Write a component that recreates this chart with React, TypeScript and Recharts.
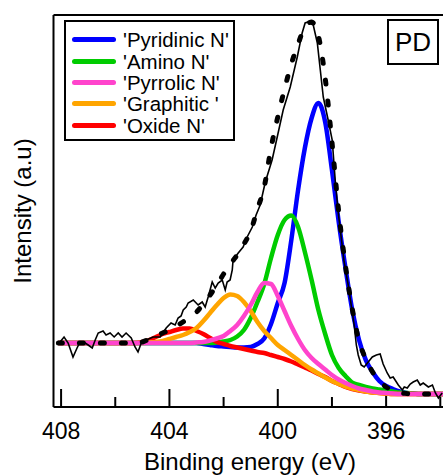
import React from 'react';
import { LineChart, Line, XAxis, YAxis, ReferenceLine, Legend } from 'recharts';

// Binding energies (eV) for the fitted component curves
const energies = [
  408.1, 408, 407.75, 407.5, 407.25, 407, 406.75, 406.5, 406.25, 406,
  405.75, 405.5, 405.25, 405, 404.75, 404.5, 404.25, 404, 403.75, 403.5,
  403.25, 403, 402.75, 402.5, 402.25, 402, 401.75, 401.5, 401.25, 401,
  400.75, 400.5, 400.25, 400, 399.75, 399.5, 399.25, 399, 398.75, 398.5,
  398.25, 398, 397.75, 397.5, 397.25, 397, 396.75, 396.5, 396.25, 396,
  395.75, 395.5, 395.25, 395, 394.75, 394.5, 394.25, 394, 393.9,
];

const pyridinicN = [
  64, 64, 64, 64, 64, 64, 64, 64, 64, 64,
  64, 64, 64, 64, 64, 64, 64, 64, 64, 64,
  64, 64, 63, 62, 61, 60.5, 60, 59.5, 59.5, 60,
  63, 68.5, 83, 104, 124, 167, 217, 259, 289, 304,
  285, 237, 185, 139, 97, 67, 47, 35, 26, 21,
  18, 15.5, 14, 13.5, 13, 13, 13, 13, 13,
];

const aminoN = [
  64, 64, 64, 64, 64, 64, 64, 64, 64, 64,
  64, 64, 64, 64, 64, 64, 64, 64, 64, 64,
  64, 64, 64, 64, 64.5, 65.5, 67, 70.5, 77, 89,
  105, 123, 149, 172, 187, 191.5, 180, 155, 127, 97,
  73, 52, 39, 31, 24.5, 22, 20, 18.5, 17.5, 16.5,
  15.5, 14.5, 14, 13.5, 13, 13, 13, 13, 13,
];

const pyrrolicN = [
  64, 64, 64, 64, 64, 64, 64, 64, 64, 64,
  64, 64, 64, 64, 64, 64, 64, 64, 64, 64,
  64, 64.5, 65, 66.5, 68.5, 71, 76, 82, 91, 102,
  115, 124, 123, 111, 96, 81, 68, 57, 49, 43,
  37.5, 32, 27.5, 24, 21, 18.5, 17, 15.5, 14.5, 14,
  13.5, 13, 13, 13, 13, 13, 13, 13, 13,
];

const graphiticN = [
  64, 64, 64, 64, 64, 64, 64, 64, 64, 64,
  64, 64, 64, 64, 64.5, 65, 66, 68, 70, 72,
  75, 79, 86, 94, 102, 109, 112.5, 111, 105, 96,
  85, 76, 69, 62, 57, 52, 47, 42, 37.5, 33.5,
  29.5, 26, 23, 20.5, 18.5, 17, 15.5, 14.5, 14, 13.5,
  13, 13, 13, 13, 13, 13, 13, 13, 13,
];

const oxideN = [
  64, 64, 64, 64, 64, 64, 64, 64, 64, 64,
  64, 64, 64, 65, 67, 70, 73, 75, 77, 78.5,
  78.5, 76, 73, 69, 65, 63, 61, 59.5, 58, 56.5,
  55, 54, 52, 50, 48, 45.5, 42.5, 39.5, 36.5, 33,
  30, 26, 23, 20, 18, 16.5, 15.5, 14.5, 14, 13.5,
  13, 13, 13, 13, 13, 13, 13, 13, 13,
];

const fitEnvelope = [
  64, 64, 64, 64, 64, 64, 64, 64, 64, 64,
  64, 64, 64, 65, 68, 71, 74, 77, 81, 85,
  90, 95, 103, 112, 122, 133, 143, 152, 163, 176,
  198, 220, 259, 290, 318, 343, 363, 380, 385, 371,
  329, 265, 195, 141, 98, 66, 48, 35, 26, 20,
  17, 14.5, 13.5, 13, 13, 13, 13, 13, 13,
];

// Measured (raw) spectrum
const rawEnergies = [
  408.04, 407.89, 407.74, 407.56, 407.41, 407.3, 407.11, 407.0, 406.85, 406.74,
  406.63, 406.45, 406.34, 406.19, 406.04, 405.89, 405.75, 405.6, 405.41, 405.27,
  405.16, 405.04, 404.86, 404.6, 404.34, 404.12, 403.94, 403.79, 403.68, 403.57,
  403.49, 403.38, 403.31, 403.12, 402.94, 402.79, 402.68, 402.57, 402.42, 402.31,
  402.2, 402.05, 401.94, 401.87, 401.76, 401.68, 401.65, 401.46, 401.28, 401.13,
  400.94, 400.8, 400.65, 400.46, 400.21, 400.02, 399.8, 399.54, 399.28, 399.1,
  398.99, 398.88, 398.76, 398.69, 398.54, 398.43, 398.32, 398.14, 397.99, 397.88,
  397.77, 397.66, 397.55, 397.4, 397.29, 397.18, 397.1, 397.03, 396.92, 396.81,
  396.66, 396.51, 396.36, 396.22, 396.11, 395.96, 395.85, 395.74, 395.55, 395.4,
  395.33, 395.22, 395.11, 395.0, 394.85, 394.74, 394.63, 394.44, 394.29, 394.18,
  394.07, 393.93,
];

const rawIntensity = [
  65, 70, 64, 50, 59, 65, 64, 62, 59, 67,
  74, 76, 72, 74, 70, 74, 70, 74, 69, 60,
  55, 64, 67, 70, 70, 79, 84, 82, 89, 91,
  97, 100, 104, 107, 102, 105, 100, 110, 125, 119,
  124, 127, 117, 125, 127, 137, 147, 154, 160, 170,
  180, 192, 202, 225, 247, 270, 297, 320, 350, 374,
  384, 385, 383, 382, 364, 337, 310, 287, 267, 227,
  195, 170, 145, 122, 102, 82, 62, 52, 42, 40,
  45, 50, 52, 53, 43, 34, 29, 30, 22, 17,
  20, 19, 23, 25, 27, 22, 24, 20, 22, 14,
  9, 14,
];

const majorTicks = [408, 404, 400, 396];
const minorTicks = [406, 402, 398, 394];

const seriesKeys = ['pyridinic', 'amino', 'pyrrolic', 'graphitic', 'oxide'];
const seriesNames = ["'Pyridinic N'", "'Amino N'", "'Pyrrolic N'", "'Graphitic '", "'Oxide N'"];
const seriesColors = ['#0000FF', '#00CC00', '#FF44CC', '#FFA500', '#FF0000'];
const seriesValues = [pyridinicN, aminoN, pyrrolicN, graphiticN, oxideN];

const tableData = energies.map((e, i) => {
  const row: Record<string, number> = { e, fit: fitEnvelope[i] };
  seriesKeys.forEach((k, j) => {
    row[k] = seriesValues[j][i];
  });
  return row;
});

const rawData = rawEnergies.map((e, i) => ({ e, raw: rawIntensity[i] }));

const FONT = "'Liberation Sans', Arial, Helvetica, sans-serif";

const XTick = (props: any) => {
  const { x, payload } = props;
  return (
    <text x={x} y={439} textAnchor="middle" fontSize={23} fontFamily={FONT} fill="#000">
      {payload.value}
    </text>
  );
};

const LegendBox = () => (
  <div
    style={{
      width: 171,
      height: 121,
      boxSizing: 'border-box',
      border: '2px solid #000',
      background: '#fff',
      paddingTop: 7,
      fontFamily: FONT,
    }}
  >
    {seriesNames.map((n, i) => (
      <div key={n} style={{ display: 'flex', alignItems: 'center', height: 21.4 }}>
        <div
          style={{
            marginLeft: 6,
            width: 44,
            height: 5,
            background: seriesColors[i],
            borderRadius: 2.5,
          }}
        />
        <span style={{ marginLeft: 7, fontSize: 20.5, lineHeight: '21px', color: '#000', whiteSpace: 'pre' }}>{n}</span>
      </div>
    ))}
  </div>
);

// draw order (bottom to top)
const drawOrder = [0, 1, 4, 3, 2];

export default function App() {
  return (
    <div style={{ position: 'absolute', left: 0, top: 0, width: 443, height: 475, background: '#fff' }}>
      <LineChart width={443} height={475} data={tableData} margin={{ top: 15, right: 0, bottom: 0, left: 0 }}>
        <XAxis
          dataKey="e"
          type="number"
          domain={[393.9, 408.28]}
          reversed
          allowDataOverflow
          ticks={majorTicks}
          interval={0}
          tickLine={false}
          axisLine={{ stroke: '#000', strokeWidth: 2 }}
          height={68}
          tick={<XTick />}
          label={() => (
            <text x={250} y={470} textAnchor="middle" fontSize={24} fontFamily={FONT} fill="#000">
              Binding energy (eV)
            </text>
          )}
        />
        <YAxis
          type="number"
          domain={[0, 392]}
          allowDataOverflow
          width={53.5}
          tick={false}
          tickLine={false}
          axisLine={{ stroke: '#000', strokeWidth: 2 }}
          label={() => (
            <text
              x={31}
              y={211}
              textAnchor="middle"
              fontSize={24}
              fontFamily={FONT}
              fill="#000"
              transform="rotate(-90, 31, 211)"
            >
              Intensity (a.u)
            </text>
          )}
        />
        <ReferenceLine y={392} stroke="#000" strokeWidth={2} />
        {majorTicks.map((t) => (
          <ReferenceLine
            key={'M' + t}
            segment={[{ x: t, y: 0 }, { x: t, y: 18 }]}
            stroke="#000"
            strokeWidth={2}
          />
        ))}
        {minorTicks.map((t) => (
          <ReferenceLine
            key={'m' + t}
            segment={[{ x: t, y: 0 }, { x: t, y: 10 }]}
            stroke="#000"
            strokeWidth={2}
          />
        ))}
        {drawOrder.map((j) => (
          <Line
            key={seriesKeys[j]}
            dataKey={seriesKeys[j]}
            name={seriesNames[j]}
            type="monotone"
            stroke={seriesColors[j]}
            strokeWidth={4.5}
            dot={false}
            activeDot={false}
            isAnimationActive={false}
          />
        ))}
        <Line
          data={rawData}
          dataKey="raw"
          name="raw"
          type="linear"
          stroke="#000"
          strokeWidth={1.6}
          dot={false}
          activeDot={false}
          isAnimationActive={false}
          legendType="none"
        />
        <Line
          dataKey="fit"
          name="fit"
          type="monotone"
          stroke="#000"
          strokeWidth={5}
          strokeDasharray="4 17"
          strokeLinecap="round"
          dot={false}
          activeDot={false}
          isAnimationActive={false}
          legendType="none"
        />
        <Legend
          layout="vertical"
          align="center"
          verticalAlign="middle"
          content={<LegendBox />}
          wrapperStyle={{ position: 'absolute', left: 64, top: 20, width: 171, height: 121, margin: 0 }}
        />
      </LineChart>
      <div
        style={{
          position: 'absolute',
          left: 387,
          top: 19,
          width: 52,
          height: 46,
          boxSizing: 'border-box',
          border: '2px solid #000',
          background: '#fff',
          display: 'flex',
          alignItems: 'center',
          justifyContent: 'center',
          fontFamily: FONT,
          fontSize: 26,
          color: '#000',
        }}
      >
        PD
      </div>
    </div>
  );
}
